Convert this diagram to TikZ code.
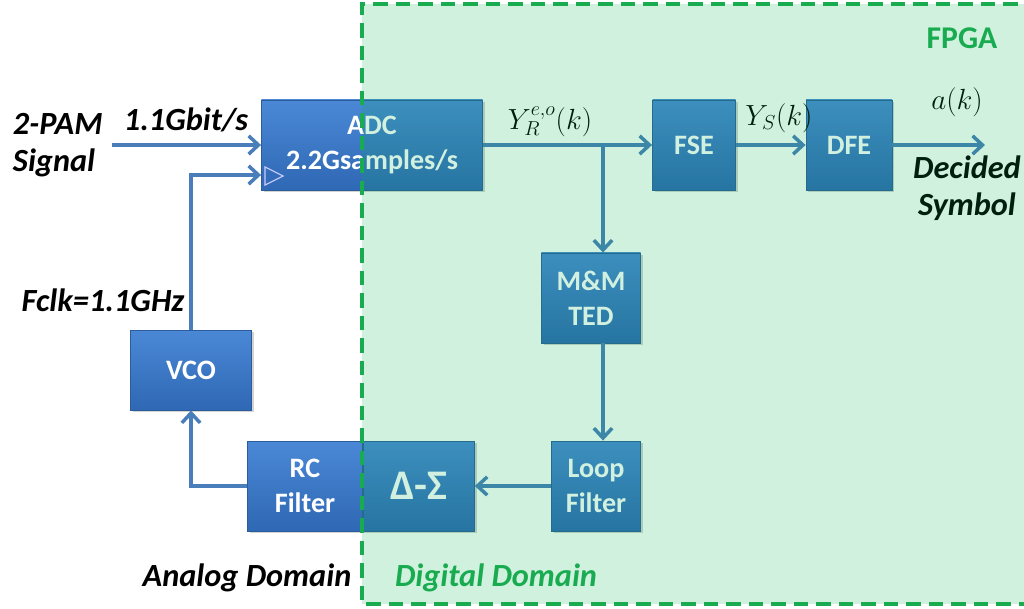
\documentclass[tikz,border=0pt]{standalone}
\usepackage{fontspec}
\setmainfont{Carlito}
\usetikzlibrary{arrows.meta, positioning, calc, shadows}

\definecolor{boxtop}{HTML}{4A88D6}
\definecolor{boxbot}{HTML}{2F68B4}
\definecolor{boxedge}{HTML}{2C5C9A}
\definecolor{wirecol}{HTML}{4A7EBB}
\definecolor{fpgagreen}{HTML}{00B050}
\definecolor{fpgaline}{HTML}{19AB4F}

\tikzset{
  blk/.style={rectangle, draw=boxedge, line width=0.6pt,
              top color=boxtop, bottom color=boxbot,
              minimum height=2.25cm, align=center, text=white,
              font=\fontsize{20}{25}\selectfont\bfseries,
              drop shadow={shadow xshift=1.5pt, shadow yshift=-1.5pt, opacity=0.35}},
  arr/.style={-{Straight Barb[length=7pt,width=13pt]}, wirecol, line width=2.5pt},
  lbl/.style={font=\fontsize{23}{26}\selectfont\bfseries\itshape, align=center},
  mlbl/.style={font=\fontsize{21}{24}\selectfont},
}

\begin{document}
\begin{tikzpicture}[x=0.025cm, y=-0.025cm]
  \useasboundingbox (0,0) rectangle (1024,608);
  \clip (0,0) rectangle (1024,608);

  % blocks
  \node[blk, minimum width=5.525cm] (adc) at (372,145) {ADC\\2.2Gsamples/s};
  \node[blk, minimum width=2.075cm] (fse) at (694,145) {FSE};
  \node[blk, minimum width=2.15cm]  (dfe) at (849,145) {DFE};
  \node[blk, minimum width=2.475cm] (ted) at (591,298) {M\&M\\TED};
  \node[blk, minimum width=2.225cm] (loop) at (596,486) {Loop\\Filter};
  \node[blk, minimum width=2.875cm] (rc) at (305,486) {RC\\Filter};
  \node[blk, minimum width=2.775cm, right=0pt of rc,
        font=\fontsize{30}{34}\selectfont\bfseries] (dsig) {Δ-Σ};
  \node[blk, minimum width=3.025cm, minimum height=2cm] (vco) at (191,370) {VCO};

  % clock input mark
  \draw[blue!20!white, line width=0.8pt]
    ($(adc.west)+(4,22)$) -- ++(18,9) -- ++(-18,9) -- cycle;

  % connectors
  \coordinate (pamin) at (112,145);
  \coordinate (tap) at (603,145);
  \coordinate (symout) at (985,145);
  \draw[arr] (pamin) -- (adc.west);
  \draw[arr] (vco.north) |- ($(adc.west)+(0,30)$);
  \draw[arr] (adc.east) -- (fse.west);
  \draw[arr] (tap) -- (tap |- ted.north);
  \draw[arr] (fse.east) -- (dfe.west);
  \draw[arr] (dfe.east) -- (symout);
  \draw[arr] (tap |- ted.south) -- (tap |- loop.north);
  \draw[arr] (loop.west) -- (dsig.east);
  \draw[arr] (rc.west) -| (vco.south);

  % labels
  \node[lbl, align=left, anchor=west] (pam) at (8,145) {2-PAM\\Signal};
  \node[lbl] (rate) at (186,120) {1.1Gbit/s};
  \node[lbl] (fclk) at (103,300) {Fclk=1.1GHz};
  \node[mlbl] (yr) at (550,122) {$Y_R^{e,o}(k)$};
  \node[mlbl] (ys) at (779,118) {$Y_S(k)$};
  \node[mlbl] (ak) at (957,102) {$a(k)$};
  \node[lbl] (dec) at (967,188) {Decided\\Symbol};
  \node[lbl] (ana) at (247,578) {Analog Domain};

  % FPGA region
  \fill[fpgagreen, opacity=0.18] (362,4) rectangle (1040,604);
  \draw[fpgaline, line width=2.2pt, dash pattern=on 10pt off 6pt]
    (1040,4) -- (362,4) -- (362,604) -- (1040,604);
  \node[font=\fontsize{22.5}{26}\selectfont\bfseries, text=fpgaline] (fpga) at (962,38) {FPGA};
  \node[lbl, text=fpgaline] (dig) at (496,578) {Digital Domain};
\end{tikzpicture}
\end{document}
